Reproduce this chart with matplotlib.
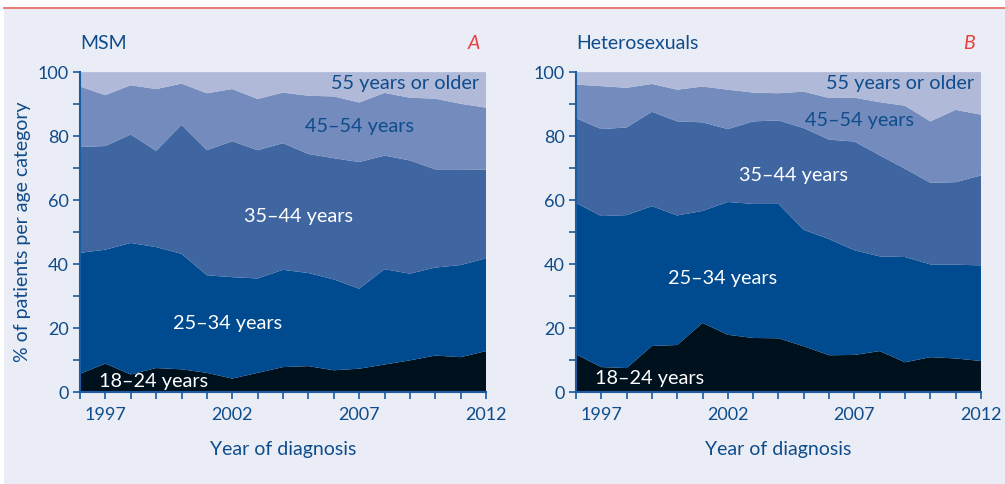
import numpy as np
import matplotlib
matplotlib.use("Agg")
import matplotlib.pyplot as plt
from matplotlib.patches import Rectangle
from matplotlib.lines import Line2D
from matplotlib.ticker import MultipleLocator, FixedLocator

plt.rcParams['font.family'] = ['Lato', 'DejaVu Sans']

years = list(range(1996, 2013))
age_groups = ["18\u201324 years", "25\u201334 years", "35\u201344 years", "45\u201354 years", "55 years or older"]

# MSM, % per age group
msm_18_24 = [5.7, 8.9, 5.5, 7.5, 7.1, 6.0, 4.2, 6.0, 7.8, 8.1, 6.8, 7.3, 8.6, 9.9, 11.4, 10.9, 12.8]
msm_25_34 = [37.8, 35.6, 41.1, 37.8, 36.1, 30.5, 31.7, 29.5, 30.4, 29.1, 28.4, 25.0, 29.8, 27.1, 27.5, 28.8, 29.0]
msm_35_44 = [33.1, 32.4, 33.9, 30.1, 40.3, 39.1, 42.5, 40.1, 39.6, 37.2, 37.9, 39.6, 35.5, 35.4, 30.7, 29.9, 27.7]
msm_45_54 = [18.9, 15.9, 15.4, 19.3, 12.9, 17.8, 16.3, 16.0, 15.8, 18.2, 19.3, 18.6, 19.6, 19.6, 22.1, 20.5, 19.4]
msm_55_up = [4.5, 7.2, 4.1, 5.3, 3.6, 6.6, 5.3, 8.4, 6.4, 7.4, 7.6, 9.5, 6.5, 8.0, 8.3, 9.9, 11.1]

# Heterosexuals, % per age group
het_18_24 = [11.8, 7.8, 7.5, 14.4, 14.7, 21.6, 17.9, 16.9, 16.8, 14.3, 11.5, 11.6, 12.8, 9.3, 10.9, 10.5, 9.7]
het_25_34 = [47.3, 47.2, 47.8, 43.7, 40.5, 35.0, 41.5, 41.9, 42.0, 36.4, 36.3, 32.7, 29.6, 32.9, 29.0, 29.3, 29.9]
het_35_44 = [26.5, 27.2, 27.4, 29.5, 29.4, 27.7, 22.8, 25.8, 26.1, 31.8, 31.1, 34.0, 31.6, 27.6, 25.5, 25.8, 28.1]
het_45_54 = [10.5, 13.4, 12.4, 8.7, 9.9, 11.2, 12.3, 9.0, 8.5, 11.4, 13.0, 13.7, 16.6, 19.7, 19.2, 22.6, 19.0]
het_55_up = [3.9, 4.4, 4.9, 3.7, 5.5, 4.5, 5.5, 6.4, 6.6, 6.1, 8.1, 8.0, 9.4, 10.5, 15.4, 11.8, 13.3]

colors = ["#00111e", "#004a8f", "#3f66a1", "#738cbd", "#b0bad8"]
text_blue = "#0f4c8c"
axis_blue = "#1b5b9f"
bg = "#eaedf5"

# label positions (year, %) and colour per panel
msm_label_pos = [(1998.9, 3.2), (2001.8, 21.5), (2004.6, 54.8), (2007.0, 82.9), (2008.8, 96.5)]
het_label_pos = [(1998.9, 4.3), (2001.8, 35.5), (2004.6, 67.8), (2007.2, 84.8), (2008.8, 96.5)]
label_colors = ["white", "white", "white", text_blue, text_blue]

fig = plt.figure(figsize=(10.05, 4.84), dpi=100, facecolor="white")
fig.patches.append(Rectangle((0.004, 0), 0.996, (484 - 9) / 484, transform=fig.transFigure,
                             facecolor=bg, edgecolor="none", zorder=-10))
fig.lines.append(Line2D([0.004, 1], [(484 - 8) / 484] * 2, transform=fig.transFigure,
                        color="#e8635f", lw=1.2, zorder=-10))

panels = [
    ([0.0796, 0.190, 0.404, 0.661], "MSM", "A",
     [msm_18_24, msm_25_34, msm_35_44, msm_45_54, msm_55_up], msm_label_pos),
    ([0.5731, 0.190, 0.403, 0.661], "Heterosexuals", "B",
     [het_18_24, het_25_34, het_35_44, het_45_54, het_55_up], het_label_pos),
]

for i, (rect, title, letter, series, label_pos) in enumerate(panels):
    ax = fig.add_axes(rect)
    ax.set_facecolor(bg)
    ax.stackplot(years, *series, colors=colors, linewidth=0)
    ax.set_xlim(1996, 2012)
    ax.set_ylim(0, 100)

    for name, (x, y), c in zip(age_groups, label_pos, label_colors):
        ax.text(x, y, name, color=c, fontsize=14.3, ha="center", va="center")

    ax.xaxis.set_major_locator(FixedLocator([1997, 2002, 2007, 2012]))
    ax.xaxis.set_minor_locator(MultipleLocator(1))
    ax.yaxis.set_major_locator(MultipleLocator(20))
    ax.yaxis.set_minor_locator(MultipleLocator(10))
    ax.tick_params(which="both", direction="out", length=5, width=1.2, color=axis_blue,
                   labelcolor=text_blue, labelsize=13)
    ax.tick_params(axis="x", which="both", pad=6)
    ax.tick_params(axis="y", which="both", pad=3)
    for s in ["top", "right"]:
        ax.spines[s].set_visible(False)
    for s in ["left", "bottom"]:
        ax.spines[s].set_color(axis_blue)
        ax.spines[s].set_linewidth(1.5)

    ax.set_xlabel("Year of diagnosis", color=text_blue, fontsize=14, labelpad=13)
    if i == 0:
        ax.set_ylabel("% of patients per age category", color=text_blue, fontsize=14, labelpad=5)
    ax.text(0.0, 1.09, title, transform=ax.transAxes, color=text_blue, fontsize=14,
            ha="left", va="center")
    ax.text(0.985, 1.09, letter, transform=ax.transAxes, color="#e8403f", fontsize=14,
            ha="right", va="center", style="italic")

fig.savefig("out.png", dpi=100, facecolor=fig.get_facecolor())
